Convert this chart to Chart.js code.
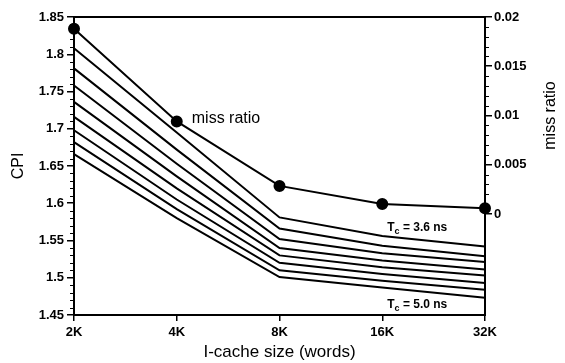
<!DOCTYPE html>
<html><head><meta charset="utf-8">
<script src="https://cdn.jsdelivr.net/npm/chart.js@4"></script>
<style>html,body{margin:0;padding:0;background:#fff}#wrap{width:565px;height:363px}</style>
</head><body><div id="wrap"><canvas id="c" width="565" height="363"></canvas></div>
<script>
// ---- data ----
const categories = ['2K', '4K', '8K', '16K', '32K'];
const cpiTc36 = [1.808, 1.695, 1.581, 1.556, 1.542];
const cpiTc38 = [1.781, 1.672, 1.566, 1.543, 1.529];
const cpiTc40 = [1.758, 1.653, 1.552, 1.533, 1.521];
const cpiTc42 = [1.736, 1.636, 1.540, 1.523, 1.511];
const cpiTc44 = [1.716, 1.620, 1.530, 1.514, 1.503];
const cpiTc46 = [1.698, 1.605, 1.520, 1.505, 1.493];
const cpiTc48 = [1.682, 1.592, 1.510, 1.496, 1.484];
const cpiTc50 = [1.666, 1.580, 1.501, 1.487, 1.473];
const missRatio = [0.0188, 0.0094, 0.00285, 0.00102, 0.00058];
const cpiTicks = [1.45, 1.5, 1.55, 1.6, 1.65, 1.7, 1.75, 1.8, 1.85];
const missTicks = [0, 0.005, 0.01, 0.015, 0.02];
const topLabel = 'T|c| = 3.6 ns';
const bottomLabel = 'T|c| = 5.0 ns';

const cpiSeries = [cpiTc36, cpiTc38, cpiTc40, cpiTc42, cpiTc44, cpiTc46, cpiTc48, cpiTc50];
const FONT = '"Liberation Sans", Arial, Helvetica, sans-serif';
const tickFont = {family: FONT, size: 13, weight: 'bold'};

function drawTc(ctx, text, x, y) {
  const [a, sub, b] = text.split('|');
  ctx.font = 'bold 12px ' + FONT;
  ctx.textAlign = 'left';
  ctx.textBaseline = 'alphabetic';
  ctx.fillText(a, x, y);
  let w = ctx.measureText(a).width;
  ctx.font = 'bold 9px ' + FONT;
  ctx.fillText(sub, x + w, y + 3);
  w += ctx.measureText(sub).width;
  ctx.font = 'bold 12px ' + FONT;
  ctx.fillText(b, x + w, y);
}

const decor = {
  id: 'decor',
  afterDraw(chart) {
    const {ctx, chartArea: ca, scales} = chart;
    const xs = scales.x, yl = scales.y, yr = scales.y2;
    ctx.save();
    ctx.strokeStyle = '#000';
    ctx.fillStyle = '#000';
    // frame
    ctx.lineWidth = 2;
    ctx.strokeRect(ca.left, ca.top, ca.right - ca.left, ca.bottom - ca.top);
    // minor ticks left
    ctx.lineWidth = 1.2;
    ctx.beginPath();
    for (let i = 0; i <= 40; i++) {
      if (i % 5 === 0) continue;
      const v = 1.45 + i * 0.01;
      const py = Math.round(yl.getPixelForValue(v)) + 0.5;
      ctx.moveTo(ca.left - 4, py); ctx.lineTo(ca.left, py);
    }
    // minor ticks right
    for (let i = 0; i <= 20; i++) {
      if (i % 5 === 0) continue;
      const v = i * 0.001;
      const py = Math.round(yr.getPixelForValue(v)) + 0.5;
      ctx.moveTo(ca.right, py); ctx.lineTo(ca.right + 4, py);
    }
    ctx.stroke();
    // miss ratio annotation
    const mx = xs.getPixelForValue(1), my = yr.getPixelForValue(missRatio[1]);
    ctx.font = '16px ' + FONT;
    ctx.textAlign = 'left';
    ctx.textBaseline = 'middle';
    ctx.fillText('miss ratio', mx + 15, my - 3);
    // Tc labels
    const tx = xs.getPixelForValue(3) + 5;
    drawTc(ctx, topLabel, tx, yl.getPixelForValue(cpiTc36[3]) - 5);
    drawTc(ctx, bottomLabel, tx, ca.bottom - 7);
    // right axis title (reads bottom to top)
    const ry = (yr.getPixelForValue(0) + yr.getPixelForValue(0.02)) / 2;
    ctx.translate(yr.right - 14, ry);
    ctx.rotate(-Math.PI / 2);
    ctx.font = '16px ' + FONT;
    ctx.textAlign = 'center';
    ctx.textBaseline = 'middle';
    ctx.fillText('miss ratio', 0, 0);
    ctx.restore();
  }
};

const datasets = cpiSeries.map((s, i) => ({
  label: 'Tc ' + (3.6 + 0.2 * i).toFixed(1),
  data: s, yAxisID: 'y', borderColor: '#000', borderWidth: 2,
  pointRadius: 0, tension: 0, fill: false
}));
datasets.push({
  label: 'miss ratio', data: missRatio, yAxisID: 'y2', borderColor: '#000',
  borderWidth: 2, pointRadius: 5, pointBackgroundColor: '#000',
  pointBorderColor: '#000', tension: 0, fill: false
});

new Chart(document.getElementById('c'), {
  type: 'line',
  data: {labels: categories, datasets},
  options: {
    responsive: false, animation: false, devicePixelRatio: 1,
    layout: {padding: {top: 17, left: 0, right: 0, bottom: 0}},
    plugins: {legend: {display: false}, tooltip: {enabled: false}},
    scales: {
      x: {
        type: 'category', offset: false,
        grid: {drawOnChartArea: false, tickLength: 6, color: '#000', lineWidth: 1.5},
        border: {display: true, color: '#000', width: 2},
        ticks: {font: tickFont, color: '#000', padding: 4, maxRotation: 0, autoSkip: false},
        title: {display: true, text: 'I-cache size (words)', color: '#000',
          font: {family: FONT, size: 17}, padding: {top: 0, bottom: 0}},
        afterFit: s => { s.height = 48; }
      },
      y: {
        position: 'left', min: 1.45, max: 1.85,
        afterBuildTicks: s => { s.ticks = cpiTicks.map(v => ({value: v})); },
        grid: {drawOnChartArea: false, tickLength: 7, color: '#000', lineWidth: 1.5},
        border: {display: true, color: '#000', width: 2},
        ticks: {font: tickFont, color: '#000', padding: 3,
          callback: v => String(+(+v).toFixed(2))},
        title: {display: true, text: 'CPI', color: '#000',
          font: {family: FONT, size: 16}, padding: {top: 9, bottom: 0}},
        afterFit: s => { s.width = 74; }
      },
      y2: {
        position: 'right', min: -0.01026, max: 0.02,
        afterBuildTicks: s => { s.ticks = missTicks.map(v => ({value: v})); },
        grid: {drawOnChartArea: false, tickLength: 7, color: '#000', lineWidth: 1.5},
        border: {display: true, color: '#000', width: 2},
        ticks: {font: tickFont, color: '#000', padding: 2,
          callback: v => String(+(+v).toFixed(3))},
        afterFit: s => { s.width = 80; }
      }
    }
  },
  plugins: [decor]
});
</script>
</body></html>
